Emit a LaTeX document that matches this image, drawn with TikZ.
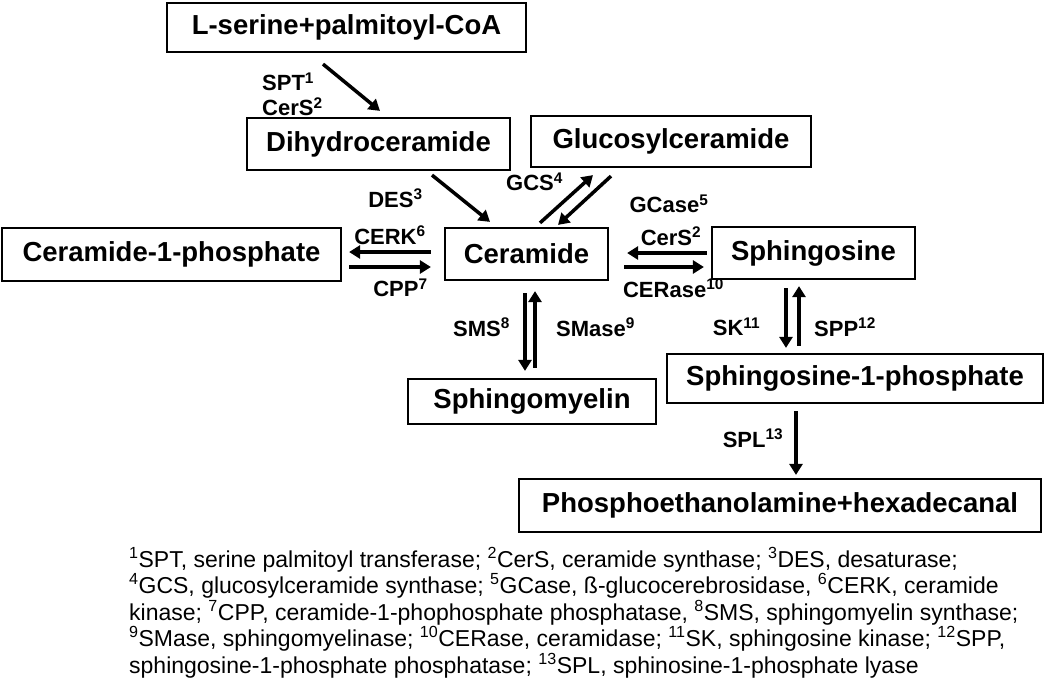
\documentclass[tikz,border=0pt]{standalone}
\usepackage{fontspec}
\setmainfont{Liberation Sans}
\usetikzlibrary{arrows.meta}
\usetikzlibrary{calc}

\tikzset{
  lipid/.style={draw, line width=2.2pt, inner sep=0pt, font=\fontsize{27.5}{31}\selectfont\bfseries},
  enz/.style={inner sep=0pt, font=\fontsize{22}{25}\selectfont\bfseries},
  rxn/.style={line width=3.5pt, -{Triangle[length=11pt,width=13pt]}}
}

\begin{document}
\begin{tikzpicture}[x=1pt,y=-1pt]
  \useasboundingbox (0,0) rectangle (1050,694);
  \node[lipid, minimum width=359, minimum height=49] (serine) at (346.5,27.5) {L-serine+palmitoyl-CoA};
  \node[lipid, minimum width=263, minimum height=52] (dihydro) at (378.5,144) {Dihydroceramide};
  \node[lipid, minimum width=280, minimum height=51] (gluco) at (671,141.5) {Glucosylceramide};
  \node[lipid, minimum width=339, minimum height=53] (cp) at (171.5,254.5) {Ceramide-1-phosphate};
  \node[lipid, minimum width=163, minimum height=52] (cer) at (526.5,254) {Ceramide};
  \node[lipid, minimum width=203, minimum height=52] (sph) at (813.5,253) {Sphingosine};
  \node[lipid, minimum width=248, minimum height=45] (sm) at (532,401.5) {Sphingomyelin};
  \node[lipid, minimum width=376, minimum height=49] (sp) at (855,378.5) {Sphingosine-1-phosphate};
  \node[lipid, minimum width=522, minimum height=53] (pe) at (780,505.5) {Phosphoethanolamine+hexadecanal};

  \draw[rxn] ($(serine.south)+(-23.5,11)$) -- ($(dihydro.north)+(1.5,-6)$);
  \draw[rxn] ($(dihydro.south)+(53.5,4)$) -- ($(cer.north)+(-36.5,-5)$);
  \draw[rxn] ($(cer.north)+(13.5,-4)$) -- ($(gluco.south)+(-78,7)$);
  \draw[rxn] ($(gluco.south)+(-60,8)$) -- ($(cer.north)+(31.5,-2)$);
  \draw[rxn] ($(cer.west)+(-13,-2)$) -- ($(cp.east)+(7,-2.5)$);
  \draw[rxn] ($(cp.east)+(7,12.5)$) -- ($(cer.west)+(-13,13)$);
  \draw[rxn] ($(sph.west)+(-4,0)$) -- ($(cer.east)+(18,-1)$);
  \draw[rxn] ($(cer.east)+(15,13)$) -- ($(sph.west)+(-7,14)$);
  \draw[rxn] ($(cer.south)+(-1.5,12)$) -- ($(sm.north)+(-7,-7)$);
  \draw[rxn] ($(sm.north)+(3,-10)$) -- ($(cer.south)+(8.5,10)$);
  \draw[rxn] ($(sph.south)+(-27.5,8)$) -- ($(sp.north)+(-69,-5)$);
  \draw[rxn] ($(sp.north)+(-56,-7)$) -- ($(sph.south)+(-14.5,6)$);
  \draw[rxn] ($(sp.south)+(-59,7)$) -- ($(pe.north)+(16,-3)$);

  \node[enz, anchor=west, align=left] (spt) at (262,94.5) {SPT\textsuperscript{1}\\CerS\textsuperscript{2}};
  \node[enz] (des) at (395.5,198) {DES\textsuperscript{3}};
  \node[enz] (gcs) at (534.5,182) {GCS\textsuperscript{4}};
  \node[enz] (gcase) at (669,204) {GCase\textsuperscript{5}};
  \node[enz] (cerk) at (390,235) {CERK\textsuperscript{6}};
  \node[enz] (cpp) at (400.5,288) {CPP\textsuperscript{7}};
  \node[enz] (cers) at (671,236) {CerS\textsuperscript{2}};
  \node[enz] (cerase) at (673.5,288) {CERase\textsuperscript{10}};
  \node[enz] (sms) at (481.5,327) {SMS\textsuperscript{8}};
  \node[enz] (smase) at (595.5,327) {SMase\textsuperscript{9}};
  \node[enz] (sk) at (736.5,327) {SK\textsuperscript{11}};
  \node[enz] (spp) at (845,327) {SPP\textsuperscript{12}};
  \node[enz] (spl) at (753,438) {SPL\textsuperscript{13}};

  \node[anchor=north west, align=left, inner sep=0pt, font=\fontsize{23}{26.5}\selectfont] (notes) at (129,547)
    {\textsuperscript{1}SPT, serine palmitoyl transferase; \textsuperscript{2}CerS, ceramide synthase; \textsuperscript{3}DES, desaturase;\\
     \textsuperscript{4}GCS, glucosylceramide synthase; \textsuperscript{5}GCase, ß-glucocerebrosidase, \textsuperscript{6}CERK, ceramide\\
     kinase; \textsuperscript{7}CPP, ceramide-1-phophosphate phosphatase, \textsuperscript{8}SMS, sphingomyelin synthase;\\
     \textsuperscript{9}SMase, sphingomyelinase; \textsuperscript{10}CERase, ceramidase; \textsuperscript{11}SK, sphingosine kinase; \textsuperscript{12}SPP,\\
     sphingosine-1-phosphate phosphatase; \textsuperscript{13}SPL, sphinosine-1-phosphate lyase};
\end{tikzpicture}
\end{document}
